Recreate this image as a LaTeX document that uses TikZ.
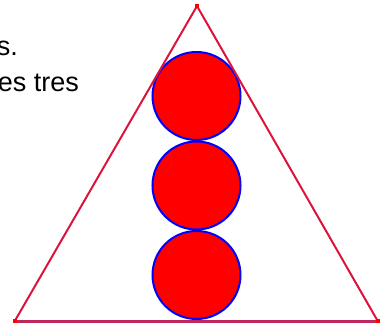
\documentclass[tikz,border=0pt]{standalone}
\usepackage{fontspec}
\setmainfont{Liberation Sans}
\definecolor{edgecol}{RGB}{220,20,60}
\definecolor{basecol}{RGB}{190,40,95}
\definecolor{circfill}{RGB}{255,0,0}
\definecolor{circline}{RGB}{0,0,255}
\begin{document}
\begin{tikzpicture}[x=1pt,y=-1pt,
  ball/.style={circle,minimum size=88pt,inner sep=0pt,fill=circfill,draw=circline,line width=2pt},
  side/.style={draw=edgecol,line width=2pt},
  basel/.style={draw=basecol,line width=2.6pt},
  vdot/.style={fill=red,minimum size=4pt,inner sep=0pt},
  txt/.style={anchor=base east,inner sep=0pt,font=\fontsize{27}{32}\selectfont}]
\useasboundingbox (0,0) rectangle (381,331);
\clip (0,0) rectangle (381,331);
\node[txt] (t1) at (18,56) {s.};
\node[txt] (t2) at (79,92) {es tres};
\coordinate (A) at (197,6);
\coordinate (B) at (14.5,321.5);
\coordinate (C) at (378,321.5);
\node[ball] (c1) at (196.5,96) {};
\node[ball] (c2) at (196.5,185.5) {};
\node[ball] (c3) at (196.5,275) {};
\draw[side] (A) -- (B);
\draw[side] (A) -- (C);
\draw[basel] (B) -- (C);
\node[vdot] (vA) at (A) {};
\node[vdot] (vB) at (B) {};
\node[vdot] (vC) at (C) {};
\end{tikzpicture}
\end{document}
